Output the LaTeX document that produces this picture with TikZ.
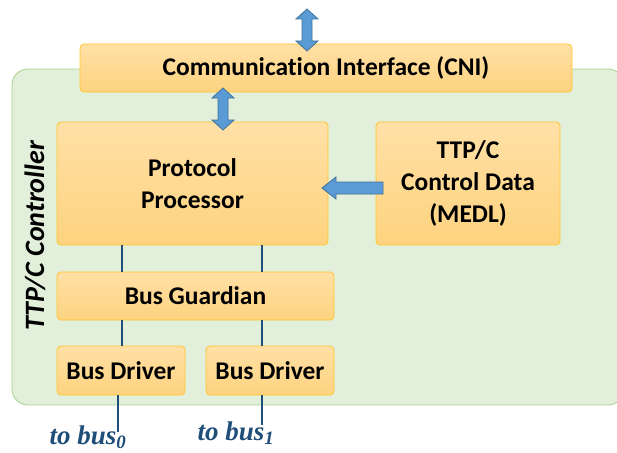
\documentclass[tikz,border=0pt]{standalone}
\usepackage{fontspec}
\setmainfont{Carlito}[Ligatures={NoCommon}]
\newfontfamily\busfont{Liberation Serif}
\definecolor{boxtop}{HTML}{FFE0A6}
\definecolor{boxbot}{HTML}{FED37F}
\definecolor{boxedge}{HTML}{FFC62E}
\definecolor{ctrlfill}{HTML}{E2EFDA}
\definecolor{ctrledge}{HTML}{A9D18E}
\definecolor{arrfill}{HTML}{5B9BD5}
\definecolor{arredge}{HTML}{41719C}
\definecolor{wire}{HTML}{1F4E79}
\tikzset{
  unit/.style={draw=boxedge, line width=0.8pt, top color=boxtop, bottom color=boxbot,
    rounded corners=4pt, font=\fontsize{25.5}{32}\selectfont\bfseries, align=center, inner sep=0pt},
  barrow/.style={draw=arredge, fill=arrfill, line width=0.8pt, line join=miter},
  wireline/.style={draw=wire, line width=1.6pt},
  buslabel/.style={text=wire, font=\busfont\fontsize{27}{30}\selectfont\bfseries\itshape, inner sep=0pt}
}
% vertical two-headed block arrow: centre x, top y, bottom y
\newcommand\vblockarrow[3]{%
  \draw[barrow] (#1,#2) -- (#1+11,#2+10) -- (#1+5,#2+10) -- (#1+5,#3-10) -- (#1+11,#3-10)
    -- (#1,#3) -- (#1-11,#3-10) -- (#1-5,#3-10) -- (#1-5,#2+10) -- (#1-11,#2+10) -- cycle;}
\begin{document}
\begin{tikzpicture}[x=1pt,y=-1pt]
\useasboundingbox (0,0) rectangle (617,452);
% controller area
\draw[draw=ctrledge, fill=ctrlfill, line width=0.8pt, rounded corners=16pt] (12,69) rectangle (624,405);
\node[rotate=90, font=\fontsize{28}{32}\selectfont\bfseries\itshape] (ctl) at (35,236) {TTP/C Controller};
% functional units
\node[unit, minimum width=492pt, minimum height=48pt] (cni) at (326,68) {Communication Interface (CNI)};
\node[unit, minimum width=271pt, minimum height=123pt] (pp) at (192.5,183.5) {Protocol\\Processor};
\node[unit, minimum width=184pt, minimum height=123pt] (medl) at (468,183.5) {TTP/C\\Control Data\\(MEDL)};
\node[unit, minimum width=277pt, minimum height=48pt] (bg) at (195.5,296) {Bus Guardian};
\node[unit, minimum width=128pt, minimum height=49pt] (bd0) at (121,370.5) {Bus Driver};
\node[unit, minimum width=128pt, minimum height=49pt] (bd1) at (270,370.5) {Bus Driver};
% bus end points
\coordinate (e0) at (118,432);
\coordinate (e1) at (262,425);
\node[buslabel, anchor=north] (l0) at (88,426) {to bus\textsubscript{0}};
\node[buslabel, anchor=north] (l1) at (236,422) {to bus\textsubscript{1}};
% wiring
\draw[wireline] (122,0 |- pp.south) -- (122,0 |- bg.north);
\draw[wireline] (262,0 |- pp.south) -- (262,0 |- bg.north);
\draw[wireline] (122,0 |- bg.south) -- (122,0 |- bd0.north);
\draw[wireline] (262,0 |- bg.south) -- (262,0 |- bd1.north);
\draw[wireline] (118,0 |- bd0.south) -- (e0);
\draw[wireline] (e1 |- bd1.south) -- (e1);
% block arrows
\vblockarrow{307}{9}{51}
\vblockarrow{223}{88}{130}
\draw[barrow] (322,188) -- (336,177) -- (336,182) -- (383,182) -- (383,194) -- (336,194) -- (336,199) -- cycle;
\end{tikzpicture}
\end{document}
